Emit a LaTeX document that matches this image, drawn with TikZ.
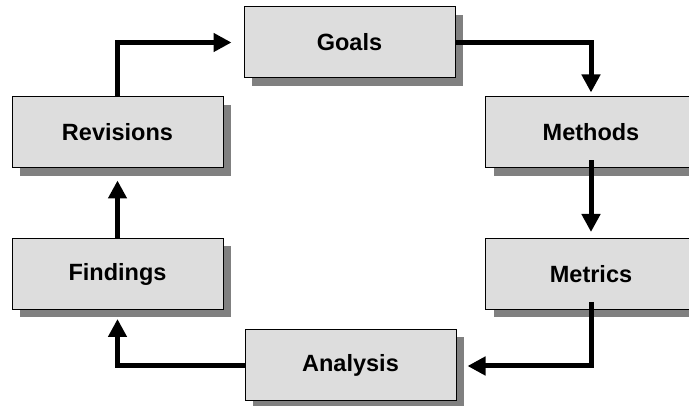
\documentclass[tikz,border=0pt]{standalone}
\usepackage{fontspec}
\setmainfont{Liberation Sans}
\usetikzlibrary{arrows.meta,shadows}
\definecolor{boxfill}{HTML}{DDDDDD}
\definecolor{shadowgray}{HTML}{808080}
\begin{document}
\begin{tikzpicture}[x=1pt,y=-1pt,
  stagebox/.style={rectangle, draw=black, line width=1pt, fill=boxfill,
    minimum width=211pt, minimum height=71pt, inner sep=0pt,
    font=\fontsize{23.5}{28}\selectfont\bfseries,
    drop shadow={shadow xshift=8pt, shadow yshift=-8pt, fill=shadowgray, opacity=1}},
  flow/.style={line width=5pt, -{Triangle[length=18pt,width=18pt]}}]
\useasboundingbox (0,0) rectangle (689,406);
\begin{scope}
\clip (0,0) rectangle (689,406);
\node[stagebox] (goals) at (349.5,42.5) {Goals};
\node[stagebox] (methods) at (591,132.5) {Methods};
\node[stagebox] (metrics) at (591,274) {Metrics};
\node[stagebox] (analysis) at (350.5,365) {Analysis};
\node[stagebox] (findings) at (117.5,274) {Findings};
\node[stagebox] (revisions) at (117.5,132.5) {Revisions};
\end{scope}
\draw[flow, shorten >=12pt] (revisions.north) |- (goals.west);
\draw[flow, shorten >=4pt] (goals.east) -| (methods.north);
\draw[flow, shorten >=6pt] ([yshift=8pt]methods.south) -- (metrics.north);
\draw[flow, shorten >=11pt] ([yshift=8pt]metrics.south) |- ([yshift=-1pt]analysis.east);
\draw[flow, shorten >=9pt] ([yshift=-1pt]analysis.west) -| (findings.south);
\draw[flow, shorten >=12pt] (findings.north) -- (revisions.south);
\end{tikzpicture}
\end{document}
